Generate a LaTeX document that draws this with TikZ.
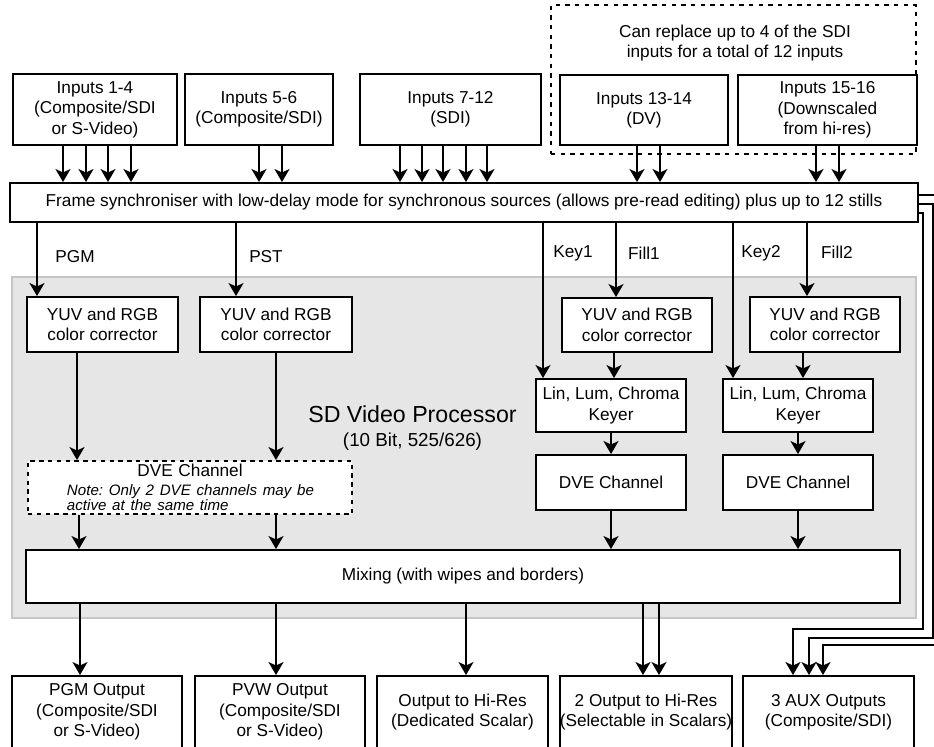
\documentclass[tikz,border=0pt]{standalone}
\usepackage{fontspec}
\setmainfont{Liberation Sans}
\usetikzlibrary{arrows.meta,calc}
\definecolor{ink}{HTML}{000000}
\definecolor{panelfill}{HTML}{E6E6E6}
\definecolor{panelline}{HTML}{C6C6C6}
\newcommand{\nine}{\fontsize{9.8}{11.6}\selectfont}
\newcommand{\twelve}{\fontsize{13.2}{15}\selectfont}
\newcommand{\eleven}{\fontsize{10.7}{12}\selectfont}
\newcommand{\notefont}{\fontsize{8.6}{8}\selectfont\frenchspacing}
\tikzset{
 every node/.append style={font=\nine,text=ink,align=center},
 box/.style={draw=ink,fill=white,line width=1.1pt,inner sep=1pt},
 dvebox/.style={box,dash pattern=on 2.5pt off 2.5pt},
 group/.style={draw=ink,line width=1.1pt,dash pattern=on 2.5pt off 3pt},
 panel/.style={draw=panelline,fill=panelfill,line width=1.3pt},
 flow/.style={-{Stealth[length=2.6mm,width=3mm,inset=.7mm]},draw=ink,line width=1.1pt},
 word/.style={inner sep=1pt},
}

\begin{document}
\begin{tikzpicture}

\useasboundingbox (0,0) rectangle (18.68,-14.92);
\clip (0,0) rectangle (18.68,-14.92);
\node[group,minimum width=7.30cm,minimum height=2.98cm] (replace) at (14.67,-1.59) {};
\node[word] (replacenote) at (14.70,-0.86) {Can replace up to 4 of the SDI\\inputs for a total of 12 inputs};
\node[box,minimum width=3.28cm,minimum height=1.42cm] (in1) at (1.90,-2.19) {Inputs 1-4\\(Composite/SDI\\or S-Video)};
\node[box,minimum width=2.96cm,minimum height=1.42cm] (in2) at (5.18,-2.19) {Inputs 5-6\\(Composite/SDI)};
\node[box,minimum width=3.62cm,minimum height=1.42cm] (in3) at (9.01,-2.19) {Inputs 7-12\\(SDI)};
\node[box,minimum width=3.36cm,minimum height=1.40cm] (in4) at (12.88,-2.20) {Inputs 13-14\\(DV)};
\node[box,minimum width=3.58cm,minimum height=1.40cm] (in5) at (16.55,-2.20) {Inputs 15-16\\(Downscaled\\from hi-res)};
\node[box,minimum width=18.16cm,minimum height=.78cm] (sync) at (9.28,-4.05) {Frame synchroniser with low-delay mode for synchronous sources (allows pre-read editing) plus up to 12 stills};
\foreach \x in {1.26,1.72,2.16,2.62} \draw[flow] (\x,0 |- in1.south) -- (\x,0 |- sync.north);
\foreach \x in {5.18,5.64} \draw[flow] (\x,0 |- in2.south) -- (\x,0 |- sync.north);
\foreach \x in {8.00,8.44,8.86,9.32,9.74} \draw[flow] (\x,0 |- in3.south) -- (\x,0 |- sync.north);
\foreach \x in {12.74,13.20} \draw[flow] (\x,0 |- in4.south) -- (\x,0 |- sync.north);
\foreach \x in {16.32,16.78} \draw[flow] (\x,0 |- in5.south) -- (\x,0 |- sync.north);

\node[panel,minimum width=18.08cm,minimum height=6.82cm] (proc) at (9.28,-8.95) {};
\node[word] (proctitle) at (8.25,-8.56) {{\twelve SD Video Processor}\\[2pt]{\eleven (10 Bit, 525/626)}};
\node[box,minimum width=3.02cm,minimum height=1.10cm] (cc1) at (2.05,-6.49) {YUV and RGB\\color corrector};
\node[box,minimum width=3.04cm,minimum height=1.10cm] (cc2) at (5.52,-6.49) {YUV and RGB\\color corrector};
\node[box,minimum width=3.00cm,minimum height=1.08cm] (cc3) at (12.74,-6.50) {YUV and RGB\\color corrector};
\node[box,minimum width=3.00cm,minimum height=1.10cm] (cc4) at (16.50,-6.49) {YUV and RGB\\color corrector};
\node[box,minimum width=3.00cm,minimum height=1.06cm] (key1) at (12.22,-8.11) {Lin, Lum, Chroma\\Keyer};
\node[box,minimum width=3.00cm,minimum height=1.06cm] (key2) at (15.96,-8.11) {Lin, Lum, Chroma\\Keyer};
\node[box,minimum width=3.00cm,minimum height=1.10cm] (dve3) at (12.22,-9.65) {DVE Channel};
\node[box,minimum width=3.00cm,minimum height=1.10cm] (dve4) at (15.96,-9.65) {DVE Channel};
\node[dvebox,align=left,text width=6.48cm,inner xsep=0pt,minimum height=1.06cm] (dvepair) at (3.80,-9.75) {\makebox[6.48cm]{DVE Channel}\\[-1pt]\hspace*{7.8mm}\parbox[t]{5.6cm}{\notefont\itshape Note: Only 2 DVE channels may be\\active at the same time}};
\node[box,minimum width=17.48cm,minimum height=1.06cm] (mix) at (9.26,-11.53) {Mixing (with wipes and borders)};

\draw[flow] (0.74,0 |- sync.south) -- (0.74,0 |- cc1.north);
\draw[flow] (4.72,0 |- sync.south) -- (4.72,0 |- cc2.north);
\draw[flow] (10.86,0 |- sync.south) -- (10.86,0 |- key1.north);
\draw[flow] (12.32,0 |- sync.south) -- (12.32,0 |- cc3.north);
\draw[flow] (14.66,0 |- sync.south) -- (14.66,0 |- key2.north);
\draw[flow] (16.14,0 |- sync.south) -- (16.14,0 |- cc4.north);
\node[word] (pgm) at (1.50,-5.14) {PGM};
\node[word] (pst) at (5.32,-5.14) {PST};
\node[word] (k1) at (11.46,-5.06) {Key1};
\node[word] (f1) at (12.88,-5.06) {Fill1};
\node[word] (k2) at (15.22,-5.06) {Key2};
\node[word] (f2) at (16.74,-5.04) {Fill2};

\draw[flow] (1.54,0 |- cc1.south) -- (1.54,0 |- dvepair.north);
\draw[flow] (5.52,0 |- cc2.south) -- (5.52,0 |- dvepair.north);
\draw[flow] (1.58,0 |- dvepair.south) -- (1.58,0 |- mix.north);
\draw[flow] (5.52,0 |- dvepair.south) -- (5.52,0 |- mix.north);
\draw[flow] (12.28,0 |- cc3.south) -- (12.28,0 |- key1.north);
\draw[flow] (16.06,0 |- cc4.south) -- (16.06,0 |- key2.north);
\draw[flow] (key1) -- (dve3); \draw[flow] (key2) -- (dve4);
\draw[flow] (dve3) -- (dve3 |- mix.north); \draw[flow] (dve4) -- (dve4 |- mix.north);

\node[box,minimum width=3.40cm,minimum height=1.44cm] (o1) at (1.94,-14.24) {PGM Output\\(Composite/SDI\\or S-Video)};
\node[box,minimum width=3.40cm,minimum height=1.44cm] (o2) at (5.60,-14.24) {PVW Output\\(Composite/SDI\\or S-Video)};
\node[box,minimum width=3.42cm,minimum height=1.44cm] (o3) at (9.25,-14.24) {Output to Hi-Res\\(Dedicated Scalar)};
\node[box,inner xsep=0pt,minimum width=3.40cm,minimum height=1.44cm] (o4) at (12.92,-14.24) {2 Output to Hi-Res\\(Selectable in Scalars)};
\node[box,minimum width=3.42cm,minimum height=1.44cm] (o5) at (16.57,-14.24) {3 AUX Outputs\\(Composite/SDI)};
\draw[flow] (1.60,0 |- mix.south) -- (1.60,0 |- o1.north);
\draw[flow] (5.52,0 |- mix.south) -- (5.52,0 |- o2.north);
\draw[flow] (9.32,0 |- mix.south) -- (9.32,0 |- o3.north);
\foreach \x in {12.86,13.18} \draw[flow] (\x,0 |- mix.south) -- (\x,0 |- o4.north);
\draw[flow] (sync.east |- 0,-3.90) -- (18.72,-3.90) |- (16.46,-12.90) -- (16.46,0 |- o5.north);
\draw[flow] (sync.east |- 0,-4.08) -- (18.66,-4.08) |- (16.18,-12.76) -- (16.18,0 |- o5.north);
\draw[flow] (sync.east |- 0,-4.26) -- (18.46,-4.26) |- (15.86,-12.58) -- (15.86,0 |- o5.north);

\end{tikzpicture}
\end{document}
